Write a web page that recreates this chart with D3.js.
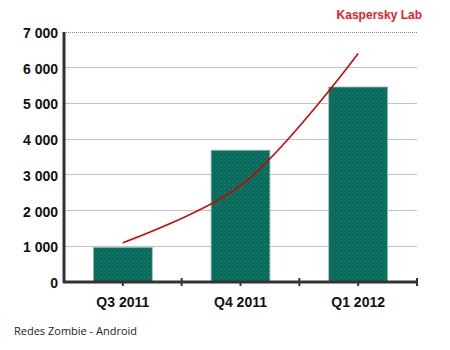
<!DOCTYPE html>
<html>
<head>
<meta charset="utf-8">
<script src="https://cdn.jsdelivr.net/npm/d3@7"></script>
<style>
  body { margin: 0; background: #fff; }
  svg { display: block; }
</style>
</head>
<body>
<div id="chart"></div>
<script>
const quarters = ["Q3 2011", "Q4 2011", "Q1 2012"];
const botnetCounts = [970, 3690, 5460];
const trendValues = [1100, 2700, 6400];
const yTicks = [0, 1000, 2000, 3000, 4000, 5000, 6000, 7000];

const W = 450, H = 350;
const margin = { top: 32, right: 33, bottom: 68, left: 64 };
const width = W - margin.left - margin.right;
const height = H - margin.top - margin.bottom;

const svg = d3.select("#chart").append("svg")
  .attr("width", W)
  .attr("height", H);

const g = svg.append("g")
  .attr("transform", `translate(${margin.left},${margin.top})`);

// paddingInner 0.5 + paddingOuter 0.25 -> step = width / n, bars centred in each slot
const x = d3.scaleBand()
  .domain(quarters)
  .range([0, width])
  .paddingInner(0.5)
  .paddingOuter(0.25);

const y = d3.scaleLinear()
  .domain([0, 7000])
  .range([height, 0]);

const fmt = v => d3.format(",")(v).replace(/,/g, " ");

// gridlines
g.selectAll("line.grid")
  .data(yTicks.filter(d => d > 0))
  .enter()
  .append("line")
  .attr("class", "grid")
  .attr("x1", 0)
  .attr("x2", width)
  .attr("y1", d => y(d))
  .attr("y2", d => y(d))
  .style("stroke", d => d === 7000 ? "#888" : "#c4c4c4")
  .style("stroke-width", 1)
  .style("stroke-dasharray", d => d === 7000 ? "1,1" : null)
  .attr("shape-rendering", "crispEdges");

// dotted texture for the bars
const defs = svg.append("defs");
const pat = defs.append("pattern")
  .attr("id", "dots")
  .attr("width", 4)
  .attr("height", 4)
  .attr("patternUnits", "userSpaceOnUse");
pat.append("rect").attr("width", 4).attr("height", 4).attr("fill", "#0a6a5b");
pat.append("rect").attr("x", 0).attr("y", 0).attr("width", 1).attr("height", 1).attr("fill", "#1f8a6e");
pat.append("rect").attr("x", 2).attr("y", 2).attr("width", 1).attr("height", 1).attr("fill", "#1a7f68");

g.selectAll("rect.bar")
  .data(botnetCounts)
  .enter()
  .append("rect")
  .attr("class", "bar")
  .attr("x", (d, i) => x(quarters[i]))
  .attr("y", d => y(d))
  .attr("width", x.bandwidth())
  .attr("height", d => height - y(d))
  .style("fill", "url(#dots)")
  .style("stroke", "#8fbfb2")
  .style("stroke-width", 0.8);

// trend line
const line = d3.line()
  .x((d, i) => x(quarters[i]) + x.bandwidth() / 2)
  .y(d => y(d))
  .curve(d3.curveCatmullRom.alpha(0.5));

g.append("path")
  .datum(trendValues)
  .attr("d", line)
  .style("fill", "none")
  .style("stroke", "#d40000")
  .style("stroke-width", 1.5);

// y axis
g.append("line")
  .attr("x1", 0).attr("x2", 0)
  .attr("y1", 0).attr("y2", height + 1)
  .style("stroke", "#333")
  .style("stroke-width", 3);

g.selectAll("text.ytick")
  .data(yTicks)
  .enter()
  .append("text")
  .attr("class", "ytick")
  .attr("x", -6)
  .attr("y", d => y(d) + 1)
  .attr("dy", "0.36em")
  .attr("text-anchor", "end")
  .style("font-family", "Arial, 'Liberation Sans', sans-serif")
  .style("font-weight", "bold")
  .style("font-size", "14px")
  .style("fill", "#111")
  .text(d => fmt(d));

// x axis
g.append("line")
  .attr("x1", -1).attr("x2", width + 1)
  .attr("y1", height).attr("y2", height)
  .style("stroke", "#333")
  .style("stroke-width", 3);

// ticks between categories (cross the axis)
const boundaries = d3.range(1, quarters.length + 1).map(i => i * x.step());
g.selectAll("line.xtick")
  .data(boundaries)
  .enter()
  .append("line")
  .attr("class", "xtick")
  .attr("x1", d => d).attr("x2", d => d)
  .attr("y1", height - 4).attr("y2", height + 4)
  .style("stroke", "#333")
  .style("stroke-width", 2);

// ticks under each category
g.selectAll("line.xtickc")
  .data(quarters)
  .enter()
  .append("line")
  .attr("class", "xtickc")
  .attr("x1", d => x(d) + x.bandwidth() / 2)
  .attr("x2", d => x(d) + x.bandwidth() / 2)
  .attr("y1", height).attr("y2", height + 4)
  .style("stroke", "#333")
  .style("stroke-width", 2);

g.selectAll("text.xlab")
  .data(quarters)
  .enter()
  .append("text")
  .attr("class", "xlab")
  .attr("x", d => x(d) + x.bandwidth() / 2)
  .attr("y", height + 20)
  .attr("dy", "0.36em")
  .attr("text-anchor", "middle")
  .style("font-family", "Arial, 'Liberation Sans', sans-serif")
  .style("font-weight", "bold")
  .style("font-size", "14px")
  .style("fill", "#111")
  .text(d => d);

svg.append("text")
  .attr("x", 422)
  .attr("y", 19)
  .attr("text-anchor", "end")
  .style("font-family", "Arial, 'Liberation Sans', sans-serif")
  .style("font-weight", "bold")
  .style("font-size", "12px")
  .style("fill", "#e8202a")
  .text("Kaspersky Lab");

svg.append("text")
  .attr("x", 14)
  .attr("y", 335)
  .style("font-family", "'Open Sans', 'DejaVu Sans', sans-serif")
  .style("font-size", "11px")
  .style("fill", "#222")
  .text("Redes Zombie - Android");
</script>
</body>
</html>
